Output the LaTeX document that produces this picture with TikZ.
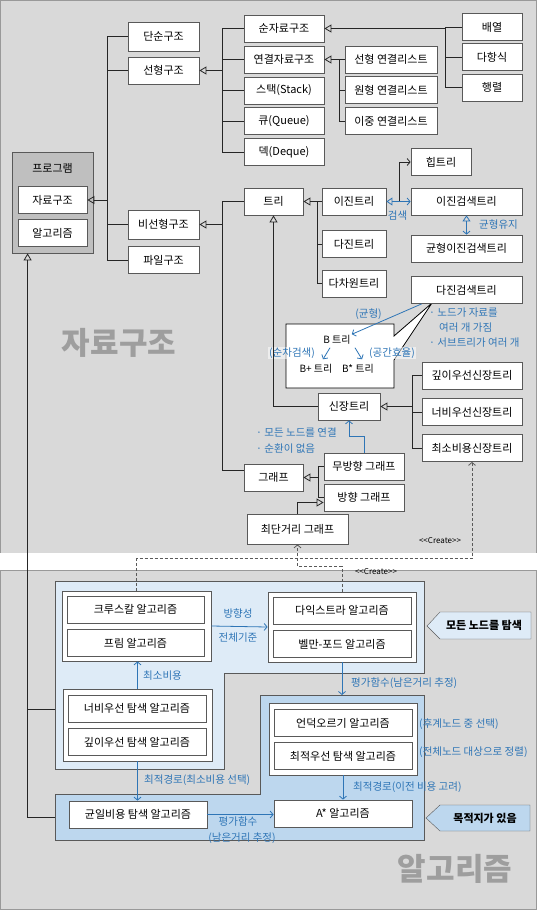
\documentclass[tikz,border=0pt]{standalone}
\usepackage{fontspec}
\setmainfont{Noto Sans CJK KR}
\usetikzlibrary{arrows.meta}
\definecolor{bgray}{HTML}{D9D9D9}
\definecolor{pgray}{HTML}{BFBFBF}
\definecolor{lblue}{HTML}{DEEBF7}
\definecolor{mblue}{HTML}{BDD7EE}
\definecolor{tblue}{HTML}{2E75B6}
\definecolor{lgray}{HTML}{595959}
\begin{document}
\begin{tikzpicture}[x=1pt, y=-1pt, font=\fontsize{11}{13}\selectfont]
    \useasboundingbox (0,0) rectangle (537,911);
    % background
    \path[fill=bgray, draw=black!40] (0.5,0.5) rectangle (536.5,553);
    \path[fill=white] (0,553) rectangle (537,570);
    \path[fill=bgray, draw=black!40] (0.5,570) rectangle (536.5,909.5);
    \node[text=black!38, font=\fontsize{31}{31}\bfseries] (wmData) at (119,343) {자료구조};
    \node[text=black!38, font=\fontsize{31}{31}\bfseries] (wmAlgo) at (455,869) {알고리즘};
    % algorithm regions
    \path[fill=lblue, draw=lgray] (55,581) -- (424,581) -- (424,673) -- (224,673) -- (224,769) -- (55,769) -- cycle;
    \path[fill=mblue, draw=lgray] (260,695) -- (424,695) -- (424,840) -- (55,840) -- (55,794) -- (260,794) -- cycle;
    \path[fill=lblue, draw=lgray] (427,626) -- (440,612) -- (531,612) -- (531,639) -- (440,639) -- cycle;
    \path[fill=mblue, draw=lgray] (426,818) -- (440,805) -- (530,805) -- (530,831) -- (440,831) -- cycle;
    \node[font=\fontsize{11}{13}\bfseries] (allNodes) at (484,625.5) {모든 노드를 탐색};
    \node[font=\fontsize{11}{13}\bfseries] (hasGoal) at (485,818) {목적지가 있음};
    % B tree callout
    \path[fill=white, draw=black, line width=0.8pt] (286,324) -- (394,324) -- (394,336) -- (432,303) -- (394,360) -- (394,388) -- (286,388) -- cycle;
    \begin{scope}
        \tikzstyle{every node}=[draw=lgray, fill=white, line width=0.8pt, inner sep=0pt, minimum height=27pt]
        \node[fill=pgray, minimum width=81pt, minimum height=101pt] (prog) at (52.5,202.5) {};
        \node[draw=none, fill=none] (progTitle) at (52.5,168) {프로그램};
        \node[minimum width=69pt] (jaryo) at (52.5,200) {자료구조};
        \node[minimum width=69pt] (algo) at (52.5,233) {알고리즘};
        \node[minimum width=71pt, minimum height=29pt] (danSun) at (163.5,36.5) {단순구조};
        \node[minimum width=71pt] (seonHyeong) at (163.5,70.5) {선형구조};
        \node[minimum width=71pt, minimum height=29pt] (biSeon) at (163.5,224.5) {비선형구조};
        \node[minimum width=71pt] (pail) at (163.5,260) {파일구조};
        \node[minimum width=80pt] (sunJa) at (284,28.5) {순자료구조};
        \node[minimum width=80pt] (yeonGyeol) at (284,59.5) {연결자료구조};
        \node[minimum width=80pt] (stack) at (284,90.5) {스택(Stack)};
        \node[minimum width=80pt] (queue) at (284,121) {큐(Queue)};
        \node[minimum width=80pt] (deque) at (284,152) {덱(Deque)};
        \node[minimum width=60pt] (baeYeol) at (492,27) {배열};
        \node[minimum width=60pt] (daHang) at (492,57) {다항식};
        \node[minimum width=60pt] (haengRyeol) at (492,87.5) {행렬};
        \node[minimum width=92pt] (linList) at (391,59.5) {선형 연결리스트};
        \node[minimum width=92pt] (cirList) at (391,90) {원형 연결리스트};
        \node[minimum width=92pt] (dblList) at (391,121) {이중 연결리스트};
        \node[minimum width=60pt] (heap) at (441,162) {힙트리};
        \node[minimum width=59pt] (tree) at (273.5,201.5) {트리};
        \node[minimum width=64pt] (binTree) at (354,201.5) {이진트리};
        \node[minimum width=111pt] (bst) at (466.5,201.5) {이진검색트리};
        \node[minimum width=64pt] (multiTree) at (354,244) {다진트리};
        \node[minimum width=64pt] (kdTree) at (354,283.5) {다차원트리};
        \node[minimum width=111pt] (avl) at (466.5,248.5) {균형이진검색트리};
        \node[minimum width=111pt] (mst) at (466.5,290) {다진검색트리};
        \node[minimum width=100pt] (dfsTree) at (472,375.5) {깊이우선신장트리};
        \node[minimum width=100pt] (bfsTree) at (472,412) {너비우선신장트리};
        \node[minimum width=100pt] (minTree) at (472,448) {최소비용신장트리};
        \node[minimum width=62pt] (span) at (349,406.5) {신장트리};
        \node[minimum width=59pt] (graph) at (273.5,477.5) {그래프};
        \node[minimum width=80pt] (undir) at (364,466.5) {무방향 그래프};
        \node[minimum width=80pt] (dir) at (364,497.5) {방향 그래프};
        \node[minimum width=101pt, minimum height=30pt] (shortest) at (297.5,529) {최단거리 그래프};
        % algorithms
        \node[minimum width=149pt, minimum height=70pt] (grpA) at (136.5,626) {};
        \node[minimum width=137pt] (kruskal) at (135.5,609.5) {크루스칼 알고리즘};
        \node[minimum width=137pt] (prim) at (135.5,643) {프림 알고리즘};
        \node[minimum width=148pt, minimum height=70pt] (grpB) at (342,627) {};
        \node[minimum width=138pt] (dijkstra) at (342,610.5) {다익스트라 알고리즘};
        \node[minimum width=138pt] (bellman) at (342,644) {벨만-포드 알고리즘};
        \node[minimum width=149pt, minimum height=72pt] (grpC) at (137.5,725) {};
        \node[minimum width=138pt] (bfsAlg) at (137,708.5) {너비우선 탐색 알고리즘};
        \node[minimum width=138pt] (dfsAlg) at (137,742) {깊이우선 탐색 알고리즘};
        \node[minimum width=148pt, minimum height=72pt] (grpD) at (343,739) {};
        \node[minimum width=138pt] (hill) at (343,723) {언덕오르기 알고리즘};
        \node[minimum width=138pt] (bestFirst) at (343,756) {최적우선 탐색 알고리즘};
        \node[minimum width=138pt] (astar) at (343,813.5) {A* 알고리즘};
        \node[minimum width=138pt] (ucs) at (138,814.5) {균일비용 탐색 알고리즘};
    \end{scope}
    \begin{scope}
        \tikzstyle{every node}=[inner sep=1pt, font=\fontsize{10}{12}\selectfont]
        \node (bTree) at (337,340) {B 트리};
        \node (bPlus) at (316,369) {B+ 트리};
        \node (bStar) at (358,369) {B* 트리};
    \end{scope}
    \begin{scope}
        \tikzstyle{every node}=[text=tblue, inner sep=1pt, font=\fontsize{10.5}{12}\selectfont]
        \node (lblSearch) at (397.5,215.5) {검색};
        \node (lblBal) at (498.5,225) {균형유지};
        \node (lblBalB) at (368.5,314) {(균형)};
        \node[anchor=west] (noteA) at (428,313) {· 노드가 자료를};
        \node[anchor=west] (noteB) at (438,328) {여러 개 가짐};
        \node[anchor=west] (noteC) at (428,343) {· 서브트리가 여러 개};
        \node[fill=white, fill opacity=0.55, text opacity=1] (lblSeq) at (292,353) {(순차검색)};
        \node[fill=white, fill opacity=0.55, text opacity=1] (lblSpace) at (392,353) {(공간효율)};
        \node[anchor=west] (noteD) at (255,433) {· 모든 노드를 연결};
        \node[anchor=west] (noteE) at (255,449) {· 순환이 없음};
        \node (lblDir) at (238,614) {방향성};
        \node (lblAll) at (238,638) {전체기준};
        \node[anchor=west] (lblMin) at (142,676) {최소비용};
        \node[anchor=west] (lblEval) at (350,683) {평가함수(남은거리 추정)};
        \node[anchor=west] (lblSucc) at (418,724) {(후계노드 중 선택)};
        \node[anchor=west] (lblSort) at (418,752) {(전체노드 대상으로 정렬)};
        \node[anchor=west] (lblPrev) at (352,787) {최적경로(이전 비용 고려)};
        \node[anchor=west] (lblOpt) at (143,780) {최적경로(최소비용 선택)};
        \node (lblEvalB) at (238,822) {평가함수};
        \node (lblRest) at (242,838) {(남은거리 추정)};
    \end{scope}
    \node[font=\fontsize{8}{9}\selectfont, inner sep=1pt] (createA) at (440,541) {<\kern0pt<Create>\kern0pt>};
    \node[font=\fontsize{8}{9}\selectfont, inner sep=1pt] (createB) at (376,572) {<\kern0pt<Create>\kern0pt>};
    \coordinate (tData) at (107,200);
    \coordinate (tLin) at (222,70.5);
    \coordinate (tNon) at (222,224.5);
    \coordinate (tSeq) at (445,28.5);
    \coordinate (tLink) at (339,59.5);
    \coordinate (tTree) at (317,201.5);
    \coordinate (tSpan) at (412,406.5);
    \coordinate (tGraph) at (318,477.5);
    \coordinate (search) at (399,201.5);
    \coordinate (regA) at (55,709);
    \coordinate (regB) at (55,817);
    \coordinate (regBTop) at (342,695);
    \begin{scope}
        \tikzstyle{every edge}=[draw, black!85, line width=0.8pt]
        \tikzstyle{isa}=[-{Triangle[open, length=7pt, width=8pt]}]
        \tikzstyle{hv}=[to path={-| (\tikztotarget)}]
        \tikzstyle{vh}=[to path={|- (\tikztotarget)}]
        \path
        (tData) edge[isa] (jaryo.east)
        (danSun.west) edge[hv] (tData)
        (seonHyeong.west) edge[hv] (tData)
        (biSeon.west) edge[hv] (tData)
        (pail.west) edge[hv] (tData)
        (tLin) edge[isa] (seonHyeong.east)
        (sunJa.west) edge[hv] (tLin)
        (yeonGyeol.west) edge[hv] (tLin)
        (stack.west) edge[hv] (tLin)
        (queue.west) edge[hv] (tLin)
        (deque.west) edge[hv] (tLin)
        (tNon) edge[isa] (biSeon.east)
        (tree.west) edge[hv] (tNon)
        ([yshift=7pt]graph.west) edge[hv] (tNon)
        (tSeq) edge[isa] (sunJa.east)
        (baeYeol.west) edge[hv] (tSeq)
        (daHang.west) edge[hv] (tSeq)
        (haengRyeol.west) edge[hv] (tSeq)
        (tLink) edge[isa] (yeonGyeol.east)
        (linList.west) edge[hv] (tLink)
        (cirList.west) edge[hv] (tLink)
        (dblList.west) edge[hv] (tLink)
        (tTree) edge[isa] (tree.east)
        (binTree.west) edge[hv] (tTree)
        (multiTree.west) edge[hv] (tTree)
        (kdTree.west) edge[hv] (tTree)
        (span.west) edge[hv, isa] (tree.south)
        (tSpan) edge[isa] (span.east)
        (dfsTree.west) edge[hv] (tSpan)
        (bfsTree.west) edge[hv] (tSpan)
        (minTree.west) edge[hv] (tSpan)
        (tGraph) edge[isa] (graph.east)
        (undir.west) edge[hv] (tGraph)
        (dir.west) edge[hv] (tGraph)
        (shortest.north) edge[vh, isa] ([yshift=-5pt]dir.west)
        (search) edge[vh, -{Straight Barb[length=3pt, width=7pt]}] (heap.west)
        (regB) edge[hv, isa] ([xshift=16pt]prog.south west)
        (regA) edge (regA -| 28,0)
        ;
    \end{scope}
    \begin{scope}
        \tikzstyle{every edge}=[draw, tblue, line width=0.8pt, -{Straight Barb[length=3pt, width=7pt]}]
        \tikzstyle{twoway}=[{Triangle[open, length=6pt, width=8pt]}-{Straight Barb[length=3pt, width=7pt]}]
        \path
        (binTree.east) edge[twoway] (bst.west)
        (bst.south) edge[twoway] (avl.north)
        ([xshift=11pt]mst.south west) edge (bTree.north east)
        ([xshift=-7pt, yshift=-2pt]bTree.south) edge ([xshift=7pt, yshift=4pt]bPlus.north)
        ([xshift=18pt, yshift=-2pt]bTree.south) edge ([xshift=4pt, yshift=4pt]bStar.north)
        (undir.north) edge[to path={-- ++(0,-16) -| (\tikztotarget)}] (span.south)
        (grpA.east) edge (grpB.west)
        (grpC.north) edge (grpC.north |- grpA.south)
        (grpB.south) edge (regBTop)
        (grpD.south) edge (astar.north)
        (grpC.south) edge (grpC.south |- ucs.north)
        (ucs.east) edge (ucs.east -| astar.west)
        ;
    \end{scope}
    \begin{scope}
        \tikzstyle{every edge}=[draw, lgray, line width=0.8pt, dash pattern=on 3pt off 2pt, -{Straight Barb[length=3pt, width=7pt]}]
        \path
        (grpA.north) edge[to path={-- ++(0,-32) -| (\tikztotarget)}] (minTree.south)
        (grpB.north) edge[to path={-- ++(0,-25) -| (\tikztotarget)}] (shortest.south)
        ;
    \end{scope}
\end{tikzpicture}
\end{document}
